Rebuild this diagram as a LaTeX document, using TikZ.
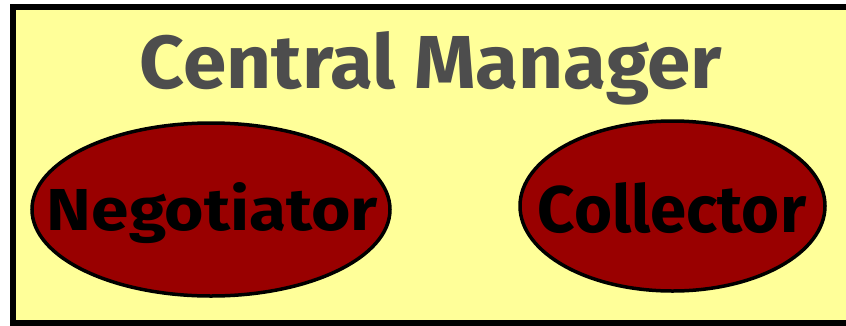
\documentclass[tikz,border=0pt]{standalone}
\usepackage{fontspec}
\setmainfont{Fira Sans}
\usetikzlibrary{shapes.geometric}
\definecolor{panelyellow}{HTML}{FFFF99}
\definecolor{daemonred}{HTML}{990000}
\definecolor{titlegray}{HTML}{4D4D4D}
\begin{document}
\begin{tikzpicture}[x=1pt,y=-1pt,
  panel/.style={draw=black, line width=6pt, fill=panelyellow},
  daemon/.style={ellipse, draw=black, line width=3.5pt, fill=daemonred, inner sep=0pt},
  title/.style={anchor=base, inner sep=0pt, text=titlegray, font=\bfseries},
  daemonlabel/.style={anchor=base, inner sep=0pt, text=black, font=\bfseries}]
\useasboundingbox (0,0) rectangle (846,325);
% manager box, open towards the right
\draw[panel] (13,7) rectangle (870,323);
\node[title] (cm) at (431,88) {\resizebox{582pt}{57pt}{Central Manager}};
% daemons
\node[daemon, minimum width=358pt, minimum height=173pt] (neg) at (211,209.5) {};
\node[daemon, minimum width=305pt, minimum height=170pt] (col) at (672.5,206) {};
\node[daemonlabel] (negt) at (212.5,230) {\resizebox{331pt}{48pt}{Negotiator}};
\node[daemonlabel] (colt) at (672,232) {\resizebox{268pt}{50pt}{Collector}};
\end{tikzpicture}
\end{document}
